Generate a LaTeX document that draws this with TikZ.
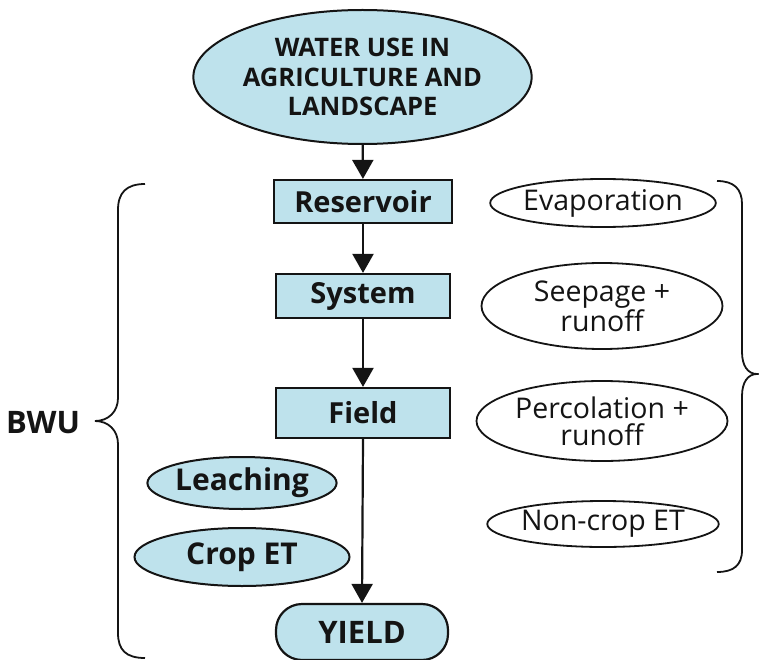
\documentclass[tikz,border=0pt]{standalone}
\usepackage{fontspec}
\setmainfont{Open Sans}
\usetikzlibrary{shapes.geometric,arrows.meta}
\definecolor{lblue}{RGB}{190,226,236}
\definecolor{ink}{RGB}{20,20,20}
\tikzset{
  bluebox/.style={draw=ink,line width=2.2pt,fill=lblue,rectangle,inner sep=0pt,font=\fontsize{29}{30}\selectfont\bfseries,text=ink},
  blueell/.style={draw=ink,line width=2pt,fill=lblue,ellipse,inner sep=0pt,font=\fontsize{30}{30}\selectfont\bfseries,text=ink},
  whiteell/.style={draw=ink,line width=1.8pt,fill=white,ellipse,inner sep=0pt,align=center,font=\fontsize{28.5}{27}\selectfont,text=ink},
  arr/.style={draw=ink,line width=2.2pt,-{Triangle[width=21pt,length=19pt]}},
  brace/.style={draw=ink,line width=1.8pt},
}
\begin{document}
\begin{tikzpicture}[x=1pt,y=-1pt]
\useasboundingbox (0,0) rectangle (759,660);
\node[blueell,minimum width=331pt,minimum height=134pt,align=center,font=\fontsize{25.5}{29.5}\selectfont\bfseries] (top) at (362.5,77) {WATER USE IN\\AGRICULTURE AND\\LANDSCAPE};
\node[bluebox,minimum width=178pt,minimum height=43pt] (res) at (363,201.5) {Reservoir};
\node[bluebox,minimum width=174pt,minimum height=44pt] (sys) at (363,296) {System};
\node[bluebox,minimum width=174pt,minimum height=50pt] (fld) at (363,413) {Field};
\node[draw=ink,line width=2.2pt,fill=lblue,rounded corners=26pt,inner sep=0pt,minimum width=172pt,minimum height=56pt,font=\fontsize{31}{30}\selectfont\bfseries,text=ink] (yld) at (362,632) {YIELD};
\node[blueell,minimum width=189pt,minimum height=52pt] (leach) at (242,483) {Leaching};
\node[blueell,minimum width=215pt,minimum height=58pt] (crop) at (242,557) {Crop ET};
\node[whiteell,minimum width=216pt,minimum height=48pt] (evap) at (603,203) {Evaporation};
\node[whiteell,minimum width=241pt,minimum height=86pt] (seep) at (602,306) {Seepage +\\runoff};
\node[whiteell,minimum width=251pt,minimum height=80pt] (perc) at (602,421) {Percolation +\\runoff};
\node[whiteell,minimum width=225pt,minimum height=46pt] (nonc) at (603,524) {Non-crop ET};
\node[font=\fontsize{31}{30}\selectfont\bfseries,text=ink,inner sep=0pt] (bwu) at (43,423) {BWU};
\draw[arr] (top) -- (res);
\draw[arr] (res) -- (sys);
\draw[arr] (sys) -- (fld);
\draw[arr] (fld.south) -- (yld.north);
\coordinate (lb) at (95,421);
\coordinate (rb) at (757,374);
\draw[brace] (145,184) .. controls (126,184) and (118,193) .. (118,210) -- (118,398) .. controls (118,412) and (108,421) .. (lb) .. controls (108,421) and (118,430) .. (118,444) -- (118,633) .. controls (118,650) and (126,658) .. (145,658);
\draw[brace] (717,181) .. controls (734,181) and (742,189) .. (742,204) -- (742,352) .. controls (742,366) and (748,374) .. (rb) .. controls (748,374) and (742,382) .. (742,396) -- (742,550) .. controls (742,565) and (734,572) .. (717,572);
\end{tikzpicture}
\end{document}
